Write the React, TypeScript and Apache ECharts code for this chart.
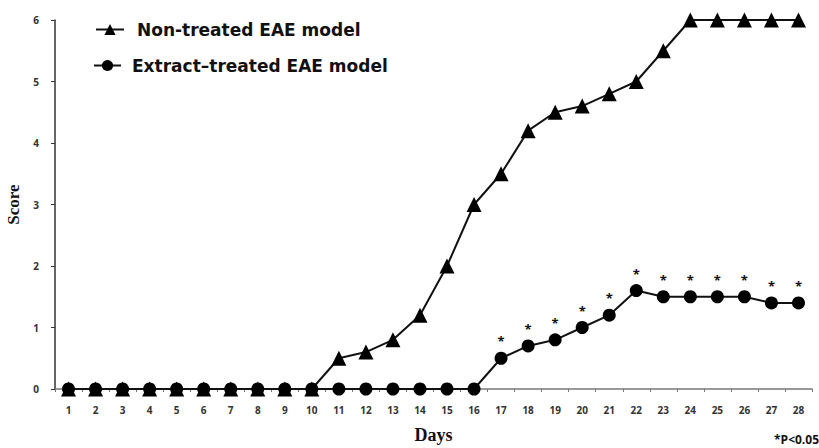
import React, { useEffect, useRef } from "react";
import * as echarts from "echarts";

const days = Array.from({ length: 28 }, (_, i) => String(i + 1));
const nonTreated = [0, 0, 0, 0, 0, 0, 0, 0, 0, 0, 0.5, 0.6, 0.8, 1.2, 2.0, 3.0, 3.5, 4.2, 4.5, 4.6, 4.8, 5.0, 5.5, 6, 6, 6, 6, 6];
const extractTreated = [0, 0, 0, 0, 0, 0, 0, 0, 0, 0, 0, 0, 0, 0, 0, 0, 0.5, 0.7, 0.8, 1.0, 1.2, 1.6, 1.5, 1.5, 1.5, 1.5, 1.4, 1.4];
const significant = [false, false, false, false, false, false, false, false, false, false, false, false, false, false, false, false, true, true, true, true, true, true, true, true, true, true, true, true];
const yTicks = [0, 1, 2, 3, 4, 5, 6];
const seriesNames = ["Non-treated EAE model", "Extract\u2013treated EAE model"];

export default function App() {
  const ref = useRef<HTMLDivElement>(null);
  useEffect(() => {
    if (!ref.current) return;
    const chart = echarts.init(ref.current, undefined, { renderer: "svg" });
    const legendText = { fontFamily: "DejaVu Sans", fontWeight: "bold", fontSize: 17, color: "#111", padding: [0, 0, 0, 8] };
    chart.setOption({
      animation: false,
      backgroundColor: "#fff",
      grid: { left: 55, right: 7, top: 20, bottom: 59, outerBoundsMode: "none", containLabel: false },
      legend: [
        {
          left: 90,
          top: 16,
          itemWidth: 28,
          itemHeight: 14,
          textStyle: legendText,
          data: [seriesNames[0]],
        },
        {
          left: 88,
          top: 52,
          itemWidth: 27,
          itemHeight: 14,
          textStyle: { ...legendText, padding: [0, 0, 0, 6] },
          data: [seriesNames[1]],
        },
      ],
      xAxis: {
        type: "category",
        data: days,
        boundaryGap: true,
        name: "Days",
        nameLocation: "middle",
        nameGap: 37,
        nameTextStyle: { fontFamily: "Liberation Serif", fontWeight: "bold", fontSize: 18, color: "#111" },
        axisLine: { lineStyle: { color: "#777", width: 1.5 } },
        axisTick: { show: true, alignWithLabel: false, length: 3, lineStyle: { color: "#777" } },
        axisLabel: { margin: 16, fontFamily: "Open Sans", fontWeight: "bold", fontSize: 10, color: "#333" },
      },
      yAxis: {
        type: "value",
        min: 0,
        max: 6,
        interval: 1,
        name: "Score",
        nameLocation: "middle",
        nameRotate: 90,
        nameGap: 32,
        nameTextStyle: { fontFamily: "Liberation Serif", fontWeight: "bold", fontSize: 17, color: "#111" },
        splitLine: { show: false },
        axisLine: { show: true, lineStyle: { color: "#333", width: 1.5 } },
        axisTick: { show: true, length: 4, lineStyle: { color: "#333" } },
        axisLabel: {
          margin: 16,
          fontFamily: "Open Sans",
          fontWeight: "bold",
          fontSize: 10,
          color: "#333",
          formatter: (v: number) => (yTicks.includes(v) ? String(v) : ""),
        },
      },
      series: [
        {
          name: seriesNames[0],
          type: "line",
          data: nonTreated,
          symbol: "triangle",
          symbolSize: 15,
          itemStyle: { color: "#000" },
          lineStyle: { color: "#111", width: 2 },
          z: 3,
        },
        {
          name: seriesNames[1],
          type: "line",
          data: extractTreated.map((v, i) => ({
            value: v,
            label: significant[i]
              ? { show: true, formatter: "*", position: "top", distance: 4, fontSize: 13, fontWeight: "bold", color: "#111", fontFamily: "Open Sans" }
              : { show: false },
          })),
          symbol: "circle",
          symbolSize: 13,
          itemStyle: { color: "#000" },
          lineStyle: { color: "#111", width: 2 },
          z: 4,
        },
      ],
      graphic: [
        {
          type: "text",
          right: 0,
          top: 433,
          style: { text: "*P<0.05", fontFamily: "Open Sans", fontWeight: "bold", fontSize: 12, fill: "#111" },
        },
      ],
    });
    return () => chart.dispose();
  }, []);
  return <div ref={ref} style={{ width: 819, height: 448, position: "absolute", left: 0, top: 0 }} />;
}
